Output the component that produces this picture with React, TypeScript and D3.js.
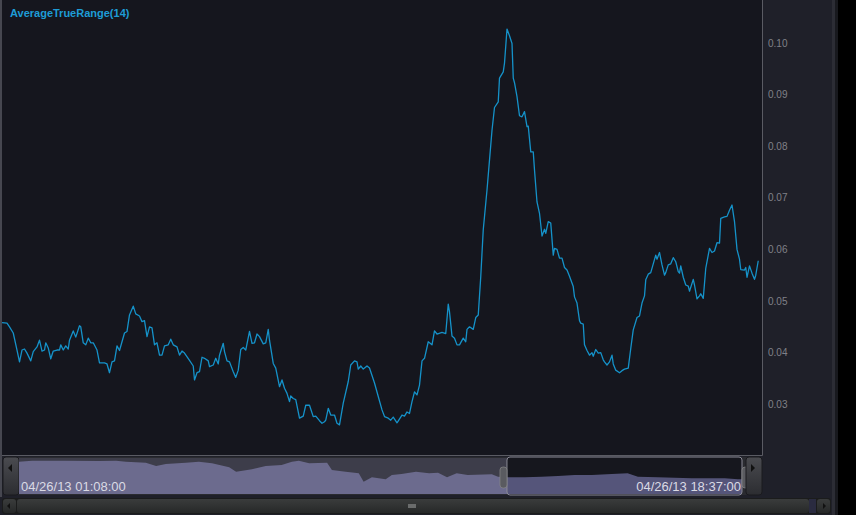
import React from "react";
import * as d3 from "d3";

const width = 856;
const height = 515;

// ATR(14) readings, bar index -> value
const bars = [
  0, 4, 6, 9, 12, 14, 16, 18, 20, 23, 25, 28, 30, 32, 34, 35, 37, 39, 41, 44, 46, 47, 49, 51, 53, 54, 57, 59, 62, 63,
  65, 67, 69, 71, 73, 76, 78, 82, 84, 86, 88, 90, 92, 94, 96, 98, 100, 102, 105, 107, 110, 112, 114, 116, 118, 120,
  122, 124, 126, 128, 130, 133, 135, 137, 140, 142, 144, 146, 150, 153, 154, 156, 158, 160, 162, 165, 166, 169, 171,
  173, 174, 177, 178, 180, 182, 185, 187, 189, 191, 193, 195, 198, 200, 202, 204, 206, 209, 211, 213, 214, 217, 219,
  222, 224, 226, 228, 230, 231, 233, 235, 238, 241, 243, 246, 249, 251, 254, 256, 258, 259, 261, 263, 266, 268, 270,
  273, 277, 279, 282, 284, 285, 287, 289, 292, 294, 298, 301, 304, 306, 309, 311, 313, 316, 320, 322, 324, 326, 328,
  330, 332, 334, 336, 338, 341, 344, 346, 348, 352, 355, 357, 358, 360, 362, 364, 366, 369, 371, 372, 374, 377, 379,
  381, 383, 385, 388, 390, 392, 394, 397, 398, 401, 402, 404, 406, 408, 409, 410, 412, 414, 416, 418, 420, 421, 423,
  425, 426, 428, 430, 432, 434, 435, 437, 439, 441, 442, 444, 446, 448, 450, 452, 454, 457, 458, 460, 462, 463, 465,
  466, 468, 470, 472, 473, 475, 477, 479, 481, 482, 484, 486, 488, 489, 491, 494, 496, 498, 501, 503, 505, 508, 510,
  512, 514, 515, 517, 519, 521, 523, 524, 526, 528, 530, 531, 533, 535, 537, 539, 541, 542, 543, 545, 547, 549, 550,
  553, 554, 556, 558, 559, 561, 563, 566, 568, 570, 572, 574, 575, 578, 580, 582, 584, 586, 588, 590, 591, 594, 595,
  596, 598, 600, 602, 603, 605,
];
const atr = [
  0.0458, 0.0457, 0.045, 0.0438, 0.0405, 0.0382, 0.0405, 0.0407, 0.0399, 0.0384, 0.0402, 0.0411, 0.0424, 0.0403,
  0.0405, 0.0419, 0.0409, 0.0388, 0.0403, 0.0405, 0.0405, 0.0415, 0.0405, 0.0413, 0.0407, 0.0424, 0.0442, 0.043,
  0.0452, 0.045, 0.0419, 0.0415, 0.0428, 0.0419, 0.0419, 0.0405, 0.038, 0.038, 0.0378, 0.0361, 0.0382, 0.0384,
  0.0413, 0.0404, 0.0421, 0.0438, 0.0441, 0.0473, 0.049, 0.0475, 0.0471, 0.046, 0.0462, 0.0431, 0.045, 0.0448,
  0.0415, 0.0419, 0.0395, 0.0395, 0.0413, 0.0415, 0.0426, 0.0415, 0.0411, 0.0395, 0.0403, 0.0399, 0.0385, 0.0374,
  0.0347, 0.0361, 0.0363, 0.0391, 0.0389, 0.0384, 0.0373, 0.0376, 0.0389, 0.0378, 0.0395, 0.0418, 0.0402, 0.0384,
  0.0382, 0.0363, 0.0352, 0.0366, 0.0406, 0.041, 0.0405, 0.0441, 0.0418, 0.0419, 0.0436, 0.0431, 0.0417, 0.0419,
  0.0445, 0.0424, 0.0379, 0.037, 0.0334, 0.0347, 0.0331, 0.0321, 0.0305, 0.0316, 0.0311, 0.0309, 0.0273, 0.0277,
  0.0298, 0.0298, 0.0276, 0.0277, 0.0268, 0.0263, 0.0266, 0.0269, 0.0292, 0.0279, 0.0279, 0.0263, 0.026, 0.0302,
  0.0344, 0.0376, 0.0384, 0.0382, 0.0368, 0.0374, 0.0368, 0.0374, 0.037, 0.0341, 0.0315, 0.0289, 0.0276, 0.0273,
  0.0269, 0.0275, 0.0264, 0.0279, 0.0277, 0.0285, 0.0282, 0.0305, 0.0324, 0.0318, 0.0337, 0.0384, 0.0389, 0.0421,
  0.0415, 0.0442, 0.0436, 0.0439, 0.0437, 0.0494, 0.0479, 0.0432, 0.0428, 0.0415, 0.0415, 0.0428, 0.0421, 0.0445,
  0.045, 0.0445, 0.0468, 0.0473, 0.0547, 0.0638, 0.0715, 0.0773, 0.0831, 0.0875, 0.0886, 0.0932, 0.0944, 0.0961,
  0.1027, 0.1014, 0.0999, 0.0932, 0.0923, 0.0896, 0.0859, 0.0857, 0.0867, 0.0838, 0.0839, 0.0789, 0.0789, 0.0754,
  0.0692, 0.067, 0.0626, 0.0639, 0.0631, 0.0654, 0.0651, 0.0589, 0.0602, 0.06, 0.0583, 0.0583, 0.0565, 0.056,
  0.0548, 0.0528, 0.0508, 0.0496, 0.0462, 0.0457, 0.0455, 0.0415, 0.0404, 0.0395, 0.04, 0.0393, 0.0406, 0.0399,
  0.04, 0.0386, 0.0382, 0.0376, 0.0382, 0.0395, 0.0378, 0.0366, 0.0361, 0.0365, 0.0368, 0.037, 0.0408, 0.0444,
  0.0468, 0.0471, 0.0496, 0.051, 0.0541, 0.0552, 0.0555, 0.0572, 0.0589, 0.0581, 0.0594, 0.057, 0.055, 0.0555,
  0.057, 0.0572, 0.0584, 0.0576, 0.0557, 0.0554, 0.0568, 0.0546, 0.0531, 0.0529, 0.0519, 0.0542, 0.0531, 0.0504,
  0.051, 0.0514, 0.0505, 0.0563, 0.0602, 0.0594, 0.0597, 0.0613, 0.0612, 0.066, 0.0663, 0.0664, 0.0676, 0.0686,
  0.0654, 0.06, 0.0581, 0.0561, 0.056, 0.0565, 0.0546, 0.0568, 0.0554, 0.0542, 0.055, 0.0578,
];
const yTicks = [0.03, 0.04, 0.05, 0.06, 0.07, 0.08, 0.09, 0.1];

// navigator overview series (minutes from start -> level)
const navMinutes = [
  0, 19, 68, 116, 141, 155, 184, 199, 213, 242, 261, 280, 305, 315, 338, 358, 381, 396, 406, 421, 447, 454, 474, 493,
  500, 512, 532, 541, 555, 576, 595, 608, 621, 635, 651, 686, 695, 709, 734, 758, 782, 806, 831, 860, 883, 898, 927,
  976, 1024, 1043, 1049,
];
const navLevel = [
  32.3, 33.3, 33.3, 33, 33.3, 32.3, 31.3, 28, 30, 31.3, 32.3, 30.7, 26.7, 22.3, 24.7, 28, 29, 32.3, 33.3, 30.7, 31.3,
  24, 22.3, 20.7, 12.3, 16.7, 14.7, 19, 20, 22.3, 20.7, 21.3, 16.7, 20.7, 19, 19.7, 17.3, 16.7, 16.7, 17.3, 18, 19, 19,
  20, 20.7, 17.3, 16.7, 15.7, 15.7, 14.7, 14.7,
];
const navStartLabel = "04/26/13 01:08:00";
const navEndLabel = "04/26/13 18:37:00";
const selStartMinute = 708;

const plot = { left: 2, top: 0, right: 762, bottom: 455 };
const nav = { left: 19, right: 742, top: 458, bottom: 494 };

export default function App() {
  const x = d3.scaleLinear().domain([0, 605]).range([plot.left, 758.25]);
  const y = d3.scaleLinear().domain([0.03, 0.1]).range([404.2, 43]);
  const pts = bars.map((b, i) => [b, atr[i]] as [number, number]);
  const line = d3
    .line<[number, number]>()
    .x((d) => x(d[0]))
    .y((d) => y(d[1]));

  const nx = d3.scaleLinear().domain([0, 1049]).range([nav.left, nav.right]);
  const ny = d3.scaleLinear().domain([0, 36]).range([nav.bottom, nav.top]);
  const navPts = navMinutes.map((m, i) => [m, navLevel[i]] as [number, number]);
  const area = d3
    .area<[number, number]>()
    .x((d) => nx(d[0]))
    .y0(nav.bottom)
    .y1((d) => ny(d[1]));
  const selX = nx(selStartMinute);

  const font = "'Liberation Sans', Arial, sans-serif";

  return (
    <svg
      width={width}
      height={height}
      style={{ position: "absolute", left: 0, top: 0 }}
      fontFamily={font}
    >
      <defs>
        <clipPath id="plotClip">
          <rect x={plot.left} y={plot.top} width={plot.right - plot.left} height={plot.bottom - plot.top} />
        </clipPath>
        <clipPath id="selClip">
          <rect x={selX} y={nav.top - 1} width={nav.right - selX} height={nav.bottom - nav.top + 2} />
        </clipPath>
        <linearGradient id="btn" x1="0" y1="0" x2="0" y2="1">
          <stop offset="0" stopColor="#4a4b50" />
          <stop offset="1" stopColor="#2c2d31" />
        </linearGradient>
        <linearGradient id="scroll" x1="0" y1="0" x2="0" y2="1">
          <stop offset="0" stopColor="#3a3c3c" />
          <stop offset="1" stopColor="#262828" />
        </linearGradient>
      </defs>

      <rect width={width} height={height} fill="#000" />
      <rect width={838} height={height} fill="#1f2029" />
      <rect x={832} y={0} width={3} height={height} fill="#2c2d35" />
      <rect x={835} y={0} width={3} height={height} fill="#18191e" />
      <rect x={0} y={0} width={2} height={497} fill="#464750" />

      <rect
        x={plot.left}
        y={plot.top}
        width={plot.right - plot.left}
        height={plot.bottom - plot.top}
        fill="#15161e"
      />
      <path
        d={`M${plot.left},${plot.bottom + 0.5}H${plot.right + 0.5}V${plot.top}`}
        fill="none"
        stroke="#5a5b63"
      />

      {yTicks.map((t) => (
        <text key={t} x={768} y={y(t)} dy="0.35em" fontSize={10} fill="#808088">
          {d3.format(".2f")(t)}
        </text>
      ))}

      <path
        d={line(pts) ?? ""}
        fill="none"
        stroke="#1592c9"
        strokeWidth={1.3}
        strokeLinejoin="round"
        clipPath="url(#plotClip)"
      />

      <text x={10} y={17} fontSize={11} fontWeight="bold" fill="#1e9cd6">
        AverageTrueRange(14)
      </text>

      {/* navigator */}
      <rect x={3} y={457} width={759} height={38} rx={3} fill="#2a2b30" />
      <rect x={3} y={457} width={16} height={38} rx={3} fill="url(#btn)" stroke="#1a1a1e" />
      <path d="M8,468 L12,464 L12,472 Z" fill="#111" />
      <rect x={nav.left} y={nav.top} width={nav.right - nav.left} height={nav.bottom - nav.top} fill="#3d3d4a" />
      <path d={area(navPts) ?? ""} fill="#6c6b8e" />
      <g clipPath="url(#selClip)">
        <rect x={selX} y={nav.top - 1} width={nav.right - selX} height={nav.bottom - nav.top + 2} fill="#16171e" />
        <path d={area(navPts) ?? ""} fill="#55557a" />
      </g>
      <rect
        x={selX}
        y={nav.top - 1}
        width={nav.right - selX}
        height={nav.bottom - nav.top + 2}
        rx={3}
        fill="none"
        stroke="#8a8a96"
        strokeWidth={1}
      />
      <rect x={selX - 7} y={467} width={7} height={21} rx={3} fill="#5a5b60" stroke="#888" strokeWidth={0.7} />
      <rect x={nav.right} y={467} width={7} height={21} rx={3} fill="#5a5b60" stroke="#888" strokeWidth={0.7} />
      <rect x={746} y={457} width={16} height={38} rx={3} fill="url(#btn)" stroke="#1a1a1e" />
      <path d="M755,468 L751,464 L751,472 Z" fill="#111" />

      <text x={21} y={491} fontSize={13} fill="#dadae4">
        {navStartLabel}
      </text>
      <text x={741} y={491} fontSize={13} textAnchor="end" fill="#dadae4">
        {navEndLabel}
      </text>

      {/* scrollbar */}
      <rect x={2} y={498} width={829} height={16} rx={3} fill="#1b1c1c" />
      <rect x={3} y={499} width={13} height={14} rx={3} fill="url(#scroll)" />
      <path d="M7,506 L10,503 L10,509 Z" fill="#111" />
      <rect x={17} y={499} width={792} height={14} rx={3} fill="url(#scroll)" />
      <rect x={408} y={504} width={8} height={4} fill="#6a6c6c" />
      <rect x={809} y={499} width={7} height={14} fill="#2a2b40" />
      <rect x={817} y={499} width={13} height={14} rx={3} fill="url(#scroll)" />
      <path d="M826,506 L823,503 L823,509 Z" fill="#111" />
    </svg>
  );
}
